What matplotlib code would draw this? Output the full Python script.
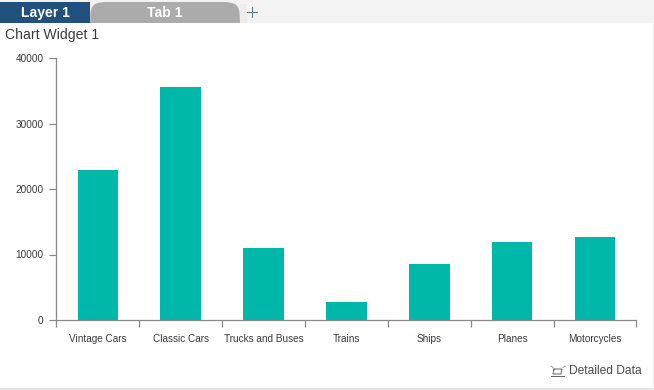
import matplotlib
matplotlib.use("Agg")
import matplotlib.pyplot as plt
from matplotlib.patches import Rectangle, Polygon
from matplotlib.lines import Line2D

categories = ["Vintage Cars", "Classic Cars", "Trucks and Buses", "Trains", "Ships", "Planes", "Motorcycles"]
values = [22900, 35600, 11000, 2800, 8500, 11900, 12700]
y_ticks = [0, 10000, 20000, 30000, 40000]

W, H = 654, 390
plt.rcParams['font.family'] = ['Liberation Sans', 'DejaVu Sans']
fig = plt.figure(figsize=(W / 100, H / 100), dpi=100, facecolor='white')


def fx(x):
    return x / W


def fy(y):
    return 1 - y / H


def px(pt):
    return pt * 0.72


def frect(x0, y0, x1, y1, color, z=0):
    fig.add_artist(Rectangle((fx(x0), fy(y1)), (x1 - x0) / W, (y1 - y0) / H,
                             transform=fig.transFigure, facecolor=color, edgecolor='none', zorder=z))


def fline(xs, ys, color, lw=1.0):
    fig.add_artist(Line2D([fx(x) for x in xs], [fy(y) for y in ys], color=color, lw=lw,
                          transform=fig.transFigure, zorder=5))


# page chrome
frect(0, 0, W, 23, '#f3f3f3')
frect(0, 2, 90, 23, '#20507e', 1)
frect(0, 387.5, W, H, '#e4e4e4', 1)
frect(652.5, 23, W, H, '#f0f0f0', 1)

# rounded tab
tab_x = [90, 90.5, 92, 95, 99, 104, 226, 231, 235, 238, 239.5, 240]
tab_y = [23, 12, 7, 4, 2.7, 2, 2, 2.7, 4, 7, 12, 23]
fig.add_artist(Polygon([(fx(a), fy(b)) for a, b in zip(tab_x, tab_y)], closed=True,
                       transform=fig.transFigure, facecolor='#ababab', edgecolor='none', zorder=2))
frect(240, 4, 247, 23, '#ededed', 1)

fig.text(fx(45), fy(17), 'Layer 1', color='white', fontsize=px(14), fontweight='bold',
         ha='center', va='baseline')
fig.text(fx(165), fy(17), 'Tab 1', color='white', fontsize=px(14), fontweight='bold',
         ha='center', va='baseline')
fline([247, 257], [11.5, 11.5], '#5f7f9a', 0.8)
fline([252, 252], [6.5, 16.5], '#5f7f9a', 0.8)

fig.text(fx(5), fy(39), 'Chart Widget 1', color='#3a3a3a', fontsize=px(14), ha='left', va='baseline')

# chart
x0, x1, ytop, ybot = 56.4, 636.4, 58, 320
ax = fig.add_axes([fx(x0), fy(ybot), (x1 - x0) / W, (ybot - ytop) / H])
ax.patch.set_alpha(0)
positions = list(range(len(categories)))
ax.bar(positions, values, width=0.49, color='#00b8aa', linewidth=0)
ax.set_xlim(-0.5, len(categories) - 0.5)
ax.set_ylim(0, 40000)

for s in ('top', 'right'):
    ax.spines[s].set_visible(False)
for s in ('left', 'bottom'):
    ax.spines[s].set_color('#8a8a8a')
    ax.spines[s].set_linewidth(0.9)

ax.set_yticks(y_ticks)
ax.set_yticklabels([str(v) for v in y_ticks])
ax.tick_params(axis='y', length=px(7.5), width=0.9, color='#8a8a8a', labelsize=px(10),
               labelcolor='#3a3a3a', pad=px(5.5))
ax.set_xticks([p - 0.5 for p in positions] + [positions[-1] + 0.5])
ax.set_xticklabels([])
ax.tick_params(axis='x', length=px(7), width=0.9, color='#8a8a8a')
ax.set_xticks(positions, minor=True)
ax.set_xticklabels(categories, minor=True)
ax.tick_params(axis='x', which='minor', length=0, labelsize=px(10), labelcolor='#3a3a3a', pad=px(13.5))

# detailed data link
fig.text(fx(641.5), fy(374.5), 'Detailed Data', color='#4a4a4a', fontsize=px(12), ha='right', va='baseline')
fline([554, 553, 561, 562, 554], [369, 374, 374, 369, 369], '#666666', 0.7)
fline([551, 564], [375.5, 375.5], '#666666', 0.7)
fline([551, 553], [366, 367.5], '#888888', 0.6)
fline([563, 565.5], [367.5, 366], '#888888', 0.6)

fig.savefig('out.png', dpi=100, facecolor='white')
